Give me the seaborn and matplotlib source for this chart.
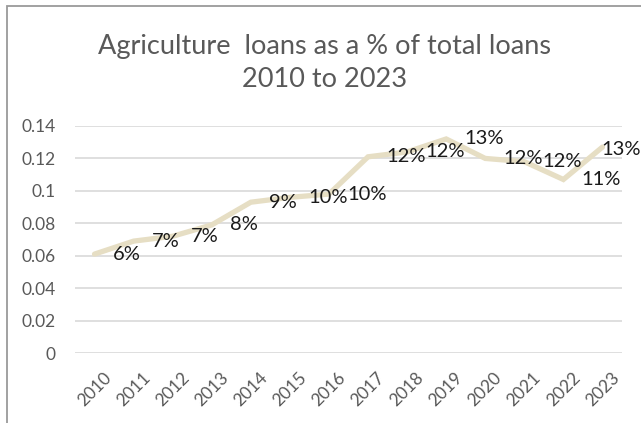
import matplotlib
matplotlib.use("Agg")
import matplotlib.pyplot as plt
import matplotlib.patches as mpatches
import seaborn as sns
import pandas as pd

# Agriculture loan share by year
years = ["2010", "2011", "2012", "2013", "2014", "2015", "2016",
         "2017", "2018", "2019", "2020", "2021", "2022", "2023"]
share = [0.061, 0.069, 0.072, 0.079, 0.093, 0.096, 0.098,
         0.121, 0.124, 0.132, 0.120, 0.118, 0.107, 0.127]
y_ticks = [0, 0.02, 0.04, 0.06, 0.08, 0.1, 0.12, 0.14]
y_tick_labels = ["0", "0.02", "0.04", "0.06", "0.08", "0.1", "0.12", "0.14"]
title = "Agriculture  loans as a % of total loans\n2010 to 2023"

sns.set_theme(style="white")
plt.rcParams["font.family"] = ["Lato", "DejaVu Sans"]

df = pd.DataFrame({"year": years, "share": share})

fig = plt.figure(figsize=(6.41, 4.23), dpi=100)
ax = fig.add_axes([75 / 641, 70 / 423, (622 - 75) / 641, (353 - 126) / 423])

sns.lineplot(data=df, x="year", y="share", sort=False, ax=ax,
             color="#E6DEC4", linewidth=3.8, solid_joinstyle="miter")

# value labels to the right of each point; the last one is kept inside the frame
for i, v in enumerate(share):
    dx = 13 if i < len(share) - 1 else -1
    dy = 0 if i < len(share) - 1 else -2
    ax.annotate(f"{v:.0%}", (i, v), xytext=(dx, dy), textcoords="offset points",
                ha="left", va="center", fontsize=14.5, color="#1a1a1a",
                annotation_clip=False)

ax.set_xlim(-0.5, len(years) - 0.5)
ax.set_ylim(0, 0.14)
ax.set_yticks(y_ticks)
ax.set_yticklabels(y_tick_labels)
ax.yaxis.grid(True, color="#D9D9D9", linewidth=1.2)
ax.xaxis.grid(False)
ax.set_axisbelow(True)
for s in ax.spines.values():
    s.set_visible(False)
ax.set_xlabel("")
ax.set_ylabel("")
ax.tick_params(axis="y", labelsize=12.5, labelcolor="#595959", pad=14, length=0)
ax.tick_params(axis="x", labelsize=12.5, labelcolor="#595959", pad=12, length=0)
plt.setp(ax.get_xticklabels(), rotation=45, ha="center")

fig.text(0.506, (423 - 63) / 423, title, ha="center", va="center",
         fontsize=19.5, color="#595959", linespacing=1.4)

# chart frame
fig.patches.append(mpatches.Rectangle((7 / 641, -0.05), 1.2, 1.05 - 6 / 423,
                                      transform=fig.transFigure, fill=False,
                                      edgecolor="#9A9A9A", linewidth=1.3))

fig.savefig("out.png", dpi=100)
